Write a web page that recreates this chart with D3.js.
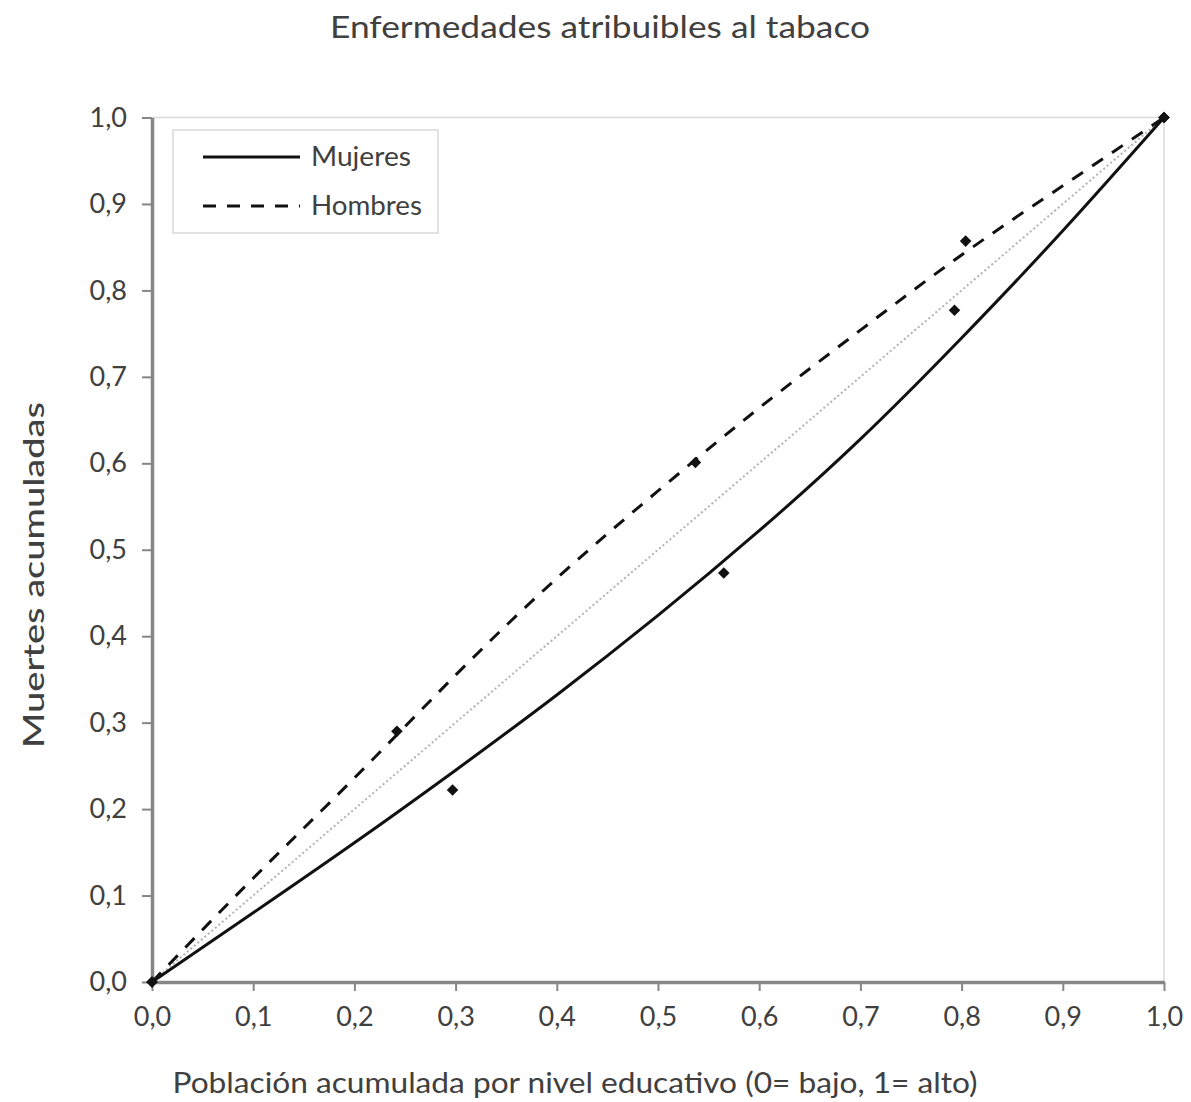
<!DOCTYPE html>
<html>
<head>
<meta charset="utf-8">
<script src="https://cdn.jsdelivr.net/npm/d3@7"></script>
<style>
  html, body { margin: 0; padding: 0; background: #fff; }
  svg { display: block; }
  text { font-family: Lato, "Open Sans", sans-serif; fill: #404040; }
</style>
</head>
<body>
<svg id="chart" width="1191" height="1102"></svg>
<script>
// Cumulative population share (x) grid for the fitted concentration curves
const curveX = [0, 0.1, 0.2, 0.3, 0.4, 0.5, 0.6, 0.7, 0.8, 0.9, 1.0];
// Fitted cumulative deaths, women (solid) and men (dashed)
const mujeresCurve = [0, 0.080, 0.161, 0.245, 0.332, 0.424, 0.522, 0.628, 0.745, 0.869, 1.0];
const hombresCurve = [0, 0.120, 0.236, 0.355, 0.467, 0.568, 0.664, 0.754, 0.841, 0.921, 1.0];

// Observed points by educational level
const mujeresPtsX = [0, 0.297, 0.565, 0.793, 1.0];
const mujeresPtsY = [0, 0.222, 0.473, 0.777, 1.0];
const hombresPtsX = [0, 0.242, 0.537, 0.804, 1.0];
const hombresPtsY = [0, 0.290, 0.601, 0.857, 1.0];

// Equality line
const equalityX = [0, 1];
const equalityY = [0, 1];

const tickValues = [0, 0.1, 0.2, 0.3, 0.4, 0.5, 0.6, 0.7, 0.8, 0.9, 1.0];

const titleText = "Enfermedades atribuibles al tabaco";
const xLabel = "Población acumulada por nivel educativo (0= bajo, 1= alto)";
const yLabel = "Muertes acumuladas";
const seriesNames = ["Mujeres", "Hombres"];

const svg = d3.select("#chart");
const x = d3.scaleLinear().domain([0, 1]).range([152, 1164]);
const y = d3.scaleLinear().domain([0, 1]).range([982, 117.5]);
const fmt = v => d3.format(".1f")(v).replace(".", ",");

// Top and right frame
svg.append("path")
  .attr("d", `M${x(0)},${y(1)}H${x(1)}V${y(0)}`)
  .attr("fill", "none").attr("stroke", "#d9d9d9").attr("stroke-width", 1.5);

// Axes
const xAxis = svg.append("g").attr("transform", `translate(0,${y(0)})`)
  .call(d3.axisBottom(x).tickValues(tickValues).tickFormat(fmt).tickSize(9).tickSizeOuter(0).tickPadding(16));
const yAxis = svg.append("g").attr("transform", `translate(${x(0)},0)`)
  .call(d3.axisLeft(y).tickValues(tickValues).tickFormat(fmt).tickSize(10).tickSizeOuter(0).tickPadding(15));
[xAxis, yAxis].forEach(g => {
  g.select(".domain").attr("stroke", "#868686").attr("stroke-width", 3.5);
  g.selectAll(".tick line").attr("stroke", "#868686").attr("stroke-width", 2);
  g.selectAll(".tick text").attr("fill", "#404040")
    .style("font-family", "Lato, sans-serif").style("font-size", "27px");
});

// Equality diagonal (dotted grey)
svg.append("path")
  .attr("d", d3.line().x((d, i) => x(equalityX[i])).y((d, i) => y(equalityY[i]))(equalityX))
  .attr("fill", "none").attr("stroke", "#b3b3b3").attr("stroke-width", 2)
  .attr("stroke-dasharray", "2,2.6");

const line = d3.line().x(d => x(d[0])).y(d => y(d[1])).curve(d3.curveNatural);

// Fitted curves
svg.append("path")
  .attr("d", line(curveX.map((v, i) => [v, mujeresCurve[i]])))
  .attr("fill", "none").attr("stroke", "#111").attr("stroke-width", 3);
svg.append("path")
  .attr("d", line(curveX.map((v, i) => [v, hombresCurve[i]])))
  .attr("fill", "none").attr("stroke", "#111").attr("stroke-width", 3)
  .attr("stroke-dasharray", "13,11");

// Observed points
const sym = d3.symbol().type(d3.symbolDiamond2).size(85);
const pts = mujeresPtsX.map((v, i) => [v, mujeresPtsY[i]])
  .concat(hombresPtsX.map((v, i) => [v, hombresPtsY[i]]));
svg.append("g").selectAll("path").data(pts).join("path")
  .attr("d", sym)
  .attr("transform", d => `translate(${x(d[0])},${y(d[1])})`)
  .attr("fill", "#111");

// Legend
const lg = svg.append("g");
lg.append("rect").attr("x", 173).attr("y", 130).attr("width", 265).attr("height", 103)
  .attr("fill", "#fff").attr("stroke", "#d9d9d9").attr("stroke-width", 1.5);
const legendRows = [
  { name: seriesNames[0], y: 157, dash: null, w: 100 },
  { name: seriesNames[1], y: 206, dash: "13,11", w: 111 }
];
legendRows.forEach(r => {
  lg.append("line").attr("x1", 203).attr("x2", 300).attr("y1", r.y).attr("y2", r.y)
    .attr("stroke", "#111").attr("stroke-width", 3).attr("stroke-dasharray", r.dash);
  lg.append("text").attr("x", 311).attr("y", r.y).attr("dy", "0.35em")
    .style("font-size", "27px").attr("textLength", r.w).attr("lengthAdjust", "spacingAndGlyphs")
    .text(r.name);
});

// Title and axis titles
svg.append("text").attr("x", 600).attr("y", 38).attr("text-anchor", "middle")
  .style("font-size", "30px").attr("textLength", 540).attr("lengthAdjust", "spacingAndGlyphs")
  .text(titleText);
svg.append("text").attr("x", 575).attr("y", 1093).attr("text-anchor", "middle")
  .style("font-size", "28px").attr("textLength", 805).attr("lengthAdjust", "spacingAndGlyphs")
  .text(xLabel);
svg.append("text").attr("transform", "translate(44,575) rotate(-90)").attr("text-anchor", "middle")
  .style("font-size", "28px").attr("textLength", 346).attr("lengthAdjust", "spacingAndGlyphs")
  .style("font-weight", "500").text(yLabel);
</script>
</body>
</html>
